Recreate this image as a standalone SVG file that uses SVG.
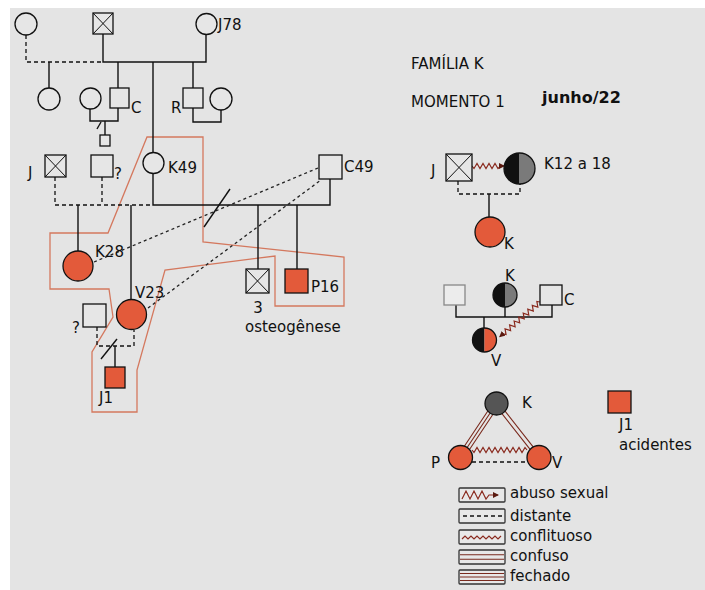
<svg xmlns="http://www.w3.org/2000/svg" width="705" height="590" viewBox="0 0 705 590">
<style>
.t{font-family:"DejaVu Sans",Verdana,sans-serif;font-size:15px;fill:#111}
.h{font-size:15px}
.b{font-weight:bold;font-size:16px}
.n{fill:#e6e6e6;stroke:#111;stroke-width:1.3}
.r{fill:#e35a3a;stroke:#111;stroke-width:1.3}
.x{stroke:#111;stroke-width:1}
.l{fill:none;stroke:#111;stroke-width:1.4}
.d{fill:none;stroke:#111;stroke-width:1.3;stroke-dasharray:4 3}
.dt{fill:none;stroke:#222;stroke-width:1.3;stroke-dasharray:3 3}
.z{fill:none;stroke:#8a2b1f;stroke-width:1.2}
.rel{fill:none;stroke:#7a2a1e;stroke-width:1.1}
.bd{fill:none;stroke:#d4785e;stroke-width:1.3}
.lg{fill:#e8e8e8;stroke:#333;stroke-width:1.3}
</style>
<defs>
<marker id="ar" viewBox="0 0 6 6" refX="5" refY="3" markerWidth="6" markerHeight="6" orient="auto" markerUnits="userSpaceOnUse">
<path d="M0,0 L6,3 L0,6 Z" fill="#5a1a10"/>
</marker>
</defs>
<rect x="10" y="8" width="695" height="582" fill="#e4e4e4"/>

<g id="boundary">
<path class="bd" d="M147,137 L203,137 L203,242 L344,257 L344,306 L275,306 L275,256 L165,270 L137,370 L137,412 L92,412 L92,352 L113,317 L109,289 L50,289 L50,233 L108,233 Z"/>
</g>

<g id="connectors">
<path class="d" d="M26,35 V62 H103"/>
<path class="l" d="M103,34 V62 H206 V35"/>
<path class="l" d="M49,62 V88"/>
<path class="l" d="M118,62 V88"/>
<path class="l" d="M193,62 V88"/>
<path class="l" d="M153,62 V152"/>
<path class="l" d="M90,109 V121 H118 V108"/>
<path class="l" d="M105,121 V135"/>
<path class="l" d="M97,129 L101,122"/>
<path class="l" d="M193,108 V122 H221 V110"/>
<path class="d" d="M55,177 V205 H153"/>
<path class="d" d="M102,177 V205"/>
<path class="l" d="M153,174 V205 H330 V179"/>
<path class="l" d="M78,205 V251"/>
<path class="l" d="M131,205 V299"/>
<path class="l" d="M258,205 V269"/>
<path class="l" d="M297,205 V269"/>
<path class="l" d="M204,227 L230,189"/>
<path class="dt" d="M94,262 L318,168"/>
<path class="dt" d="M148,308 L321,180"/>
<path class="d" d="M97,327 V346 H134 V330"/>
<path class="l" d="M115,346 V367"/>
<path class="l" d="M101,359 L117,339"/>

<path class="d" d="M458,181 V194 H520 V184"/>
<path class="l" d="M489,194 V217"/>
<path class="z" marker-end="url(#ar)" d="M472,166 l2,2.5 l3,-5 l3,5 l3,-5 l3,5 l3,-5 l3,5 l3,-5 l3,5 l3,-2.5 l3,0"/>

<path class="l" d="M456,305 V317 H552 V305"/>
<path class="l" d="M505,307 V317"/>
<path class="l" d="M484,317 V328"/>
<path class="z" marker-end="url(#ar)" transform="translate(540,302) rotate(139.2)" d="M0,0 l2,2.5 l3,-5 l3,5 l3,-5 l3,5 l3,-5 l3,5 l3,-5 l3,5 l3,-5 l3,5 l3,-5 l3,5 l3,-5 l3,5 l3,-5 l2,2.5 l4,0"/>

<path class="rel" d="M496.5,403.5 L460.5,457.5 M499,405.2 L463,459.2 M494,401.8 L458,455.8"/>
<path class="rel" d="M498.1,402.3 L540.6,456.3 M494.9,404.7 L537.4,458.7"/>
<path class="z" d="M472,450 l2,2.5 l3,-5 l3,5 l3,-5 l3,5 l3,-5 l3,5 l3,-5 l3,5 l3,-5 l3,5 l3,-5 l3,5 l3,-5 l3,5 l3,-5 l3,5 l3,-5 l2,2.5"/>
<path class="d" d="M472,462 H528"/>
</g>

<g id="n-gm1"><circle class="n" cx="26" cy="24" r="11"/></g>
<g id="n-gf"><rect class="n" x="93" y="13" width="20" height="21"/><path class="x" d="M93,13 L113,34 M113,13 L93,34"/></g>
<g id="n-j78"><circle class="n" cx="206.5" cy="24" r="10.5"/><text class="t" x="218" y="30">J78</text></g>
<g id="n-half"><circle class="n" cx="49" cy="99" r="11"/></g>
<g id="n-cwife"><circle class="n" cx="90.5" cy="98.5" r="10.5"/></g>
<g id="n-c"><rect class="n" x="110" y="88" width="19" height="20"/><text class="t" x="131" y="113">C</text></g>
<g id="n-cchild"><rect class="n" x="100" y="135" width="10" height="11"/></g>
<g id="n-r"><rect class="n" x="183" y="88" width="20" height="20"/><text class="t" x="171" y="113">R</text></g>
<g id="n-rwife"><circle class="n" cx="221" cy="99" r="11"/></g>
<g id="n-k49"><circle class="n" cx="153.5" cy="163" r="10.5"/><text class="t" x="168" y="173">K49</text></g>
<g id="n-j"><rect class="n" x="45" y="155" width="21" height="22"/><path class="x" d="M45,155 L66,177 M66,155 L45,177"/><text class="t" x="28" y="178">J</text></g>
<g id="n-q1"><rect class="n" x="91" y="155" width="22" height="22"/><text class="t" x="114" y="179">?</text></g>
<g id="n-c49"><rect class="n" x="319" y="155" width="23" height="24"/><text class="t" x="344" y="172">C49</text></g>
<g id="n-k28"><circle class="r" cx="78" cy="266" r="15"/><text class="t" x="95" y="257">K28</text></g>
<g id="n-v23"><circle class="r" cx="131.5" cy="314.5" r="15"/><text class="t" x="135" y="298">V23</text></g>
<g id="n-q2"><rect class="n" x="83" y="304" width="23" height="23"/><text class="t" x="72" y="333">?</text></g>
<g id="n-j1"><rect class="r" x="105" y="367" width="20" height="21"/><text class="t" x="99" y="403">J1</text></g>
<g id="n-3"><rect class="n" x="246" y="269" width="23" height="24"/><path class="x" d="M246,269 L269,293 M269,269 L246,293"/><text class="t" x="258" y="313" text-anchor="middle">3</text><text class="t" x="245" y="332">osteogênese</text></g>
<g id="n-p16"><rect class="r" x="285" y="269" width="23" height="24"/><text class="t" x="311" y="292">P16</text></g>

<g id="title">
<text class="t h" x="411" y="69">FAMÍLIA K</text>
<text class="t h" x="411" y="107">MOMENTO 1</text>
<text class="t b" x="542" y="103">junho/22</text>
</g>

<g id="m1-j"><rect class="n" x="446" y="154" width="26" height="27"/><path class="x" d="M446,154 L472,181 M472,154 L446,181"/><text class="t" x="431" y="176">J</text></g>
<g id="m1-k12"><path d="M519.5,153 A15.5,15.5 0 0 0 519.5,184 Z" fill="#111"/><path d="M519.5,153 A15.5,15.5 0 0 1 519.5,184 Z" fill="#7a7a7a"/><circle cx="519.5" cy="168.5" r="15.5" fill="none" stroke="#111" stroke-width="1.3"/><text class="t" x="544" y="169">K12 a 18</text></g>
<g id="m1-k"><circle class="r" cx="490" cy="232" r="15"/><text class="t" x="504" y="249">K</text></g>

<g id="m2-sq"><rect x="444" y="285" width="21" height="20" fill="#ececec" stroke="#888" stroke-width="1.3"/></g>
<g id="m2-k"><path d="M505,283 A12,12 0 0 0 505,307 Z" fill="#111"/><path d="M505,283 A12,12 0 0 1 505,307 Z" fill="#7a7a7a"/><circle cx="505" cy="295" r="12" fill="none" stroke="#111" stroke-width="1.3"/><text class="t" x="510" y="281" text-anchor="middle">K</text></g>
<g id="m2-c"><rect class="n" x="540" y="285" width="22" height="20"/><text class="t" x="564" y="305">C</text></g>
<g id="m2-v"><path d="M484.5,328 A12,12 0 0 0 484.5,352 Z" fill="#111"/><path d="M484.5,328 A12,12 0 0 1 484.5,352 Z" fill="#e35a3a"/><circle cx="484.5" cy="340" r="12" fill="none" stroke="#111" stroke-width="1.3"/><text class="t" x="491" y="366">V</text></g>

<g id="t-k"><circle cx="496.5" cy="403.5" r="11.5" fill="#555" stroke="#111" stroke-width="1.3"/><text class="t" x="522" y="408">K</text></g>
<g id="t-p"><circle class="r" cx="460.5" cy="457.5" r="12"/><text class="t" x="431" y="468">P</text></g>
<g id="t-v"><circle class="r" cx="539" cy="457.5" r="12"/><text class="t" x="552" y="468">V</text></g>

<g id="j1-note"><rect class="r" x="608" y="391" width="23" height="22"/><text class="t" x="619" y="430">J1</text><text class="t" x="619" y="450">acidentes</text></g>

<g id="legend">
<rect class="lg" x="459" y="488" width="46" height="14" rx="1"/>
<path class="z" marker-end="url(#ar)" d="M462,499 l4,-8 l4,8 l4,-8 l4,8 l4,-8 l4,8 l3,-4 l9,0"/>
<text class="t" x="510" y="498">abuso sexual</text>
<rect class="lg" x="459" y="509" width="46" height="14" rx="1"/>
<path class="d" d="M463,516 H502"/>
<text class="t" x="510" y="521">distante</text>
<rect class="lg" x="459" y="530" width="46" height="14" rx="1"/>
<path class="z" d="M462,539 l3,-3 l3,3 l3,-3 l3,3 l3,-3 l3,3 l3,-3 l3,3 l3,-3 l3,3 l3,-3 l3,3 l3,-3"/>
<text class="t" x="510" y="541">conflituoso</text>
<rect class="lg" x="459" y="550" width="46" height="14" rx="1"/>
<path class="rel" d="M460,554.7 H504 M460,559.3 H504"/>
<text class="t" x="510" y="561">confuso</text>
<rect class="lg" x="459" y="570" width="46" height="14" rx="1"/>
<path class="rel" d="M460,573.5 H504 M460,577 H504 M460,580.5 H504"/>
<text class="t" x="510" y="581">fechado</text>
</g>
</svg>
